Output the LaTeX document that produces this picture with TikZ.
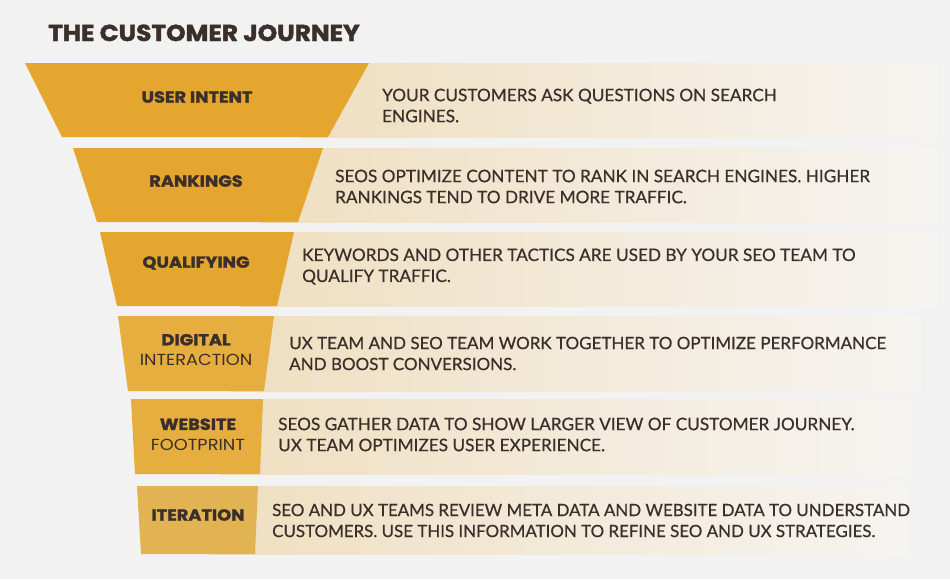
\documentclass[tikz,border=0pt]{standalone}
\usepackage{fontspec}
\setmainfont{Lato}[UprightFeatures={FakeBold=0.6}]
\newfontfamily\headfont{Poppins}[FakeStretch=1.11, BoldFeatures={FakeBold=1.6}]
\newfontfamily\titlefont{Poppins}[FakeStretch=1.08, BoldFeatures={FakeBold=1.8}]
\definecolor{bgc}{HTML}{F2F2F2}
\definecolor{gold}{HTML}{E4A62E}
\definecolor{goldB}{HTML}{E6AE3E}
\definecolor{goldC}{HTML}{E2B353}
\definecolor{beige}{HTML}{EFDFC0}
\definecolor{fadew}{HTML}{F6F4F1}
\definecolor{ink}{HTML}{3A2F2A}
\tikzset{
  band/.style={left color=beige, right color=fadew, draw=none},
  titletext/.style={font=\titlefont\bfseries\fontsize{23}{26}\selectfont, text=ink, inner sep=0pt},
  labeltext/.style={font=\headfont\fontsize{16}{20.5}\selectfont, text=ink, align=center, inner sep=0pt},
  bodytext/.style={font=\fontsize{17.2}{21}\selectfont, text=ink, align=left, inner sep=0pt, anchor=west}
}
\begin{document}
\begin{tikzpicture}[x=1pt,y=-1pt]
\fill[bgc] (0,0) rectangle (950,579);
\useasboundingbox (0,0) rectangle (950,579);
\node[titletext, anchor=base west] (title) at (48,41) {THE CUSTOMER JOURNEY};
% bands
\shade[band] (300,63) rectangle (938,137);
\shade[band] (260,148) rectangle (938,222);
\shade[band] (240,232) rectangle (938,306);
\shade[band] (230,316) rectangle (921,391);
\shade[band] (220,399) rectangle (910,474);
\shade[band] (210,486) rectangle (908,554);
% funnel pieces
\fill[gold] (25,63) -- (369,63) -- (328,137) -- (62,137) -- cycle;
\fill[gold] (73,148) -- (323,148) -- (298,222) -- (97,222) -- cycle;
\fill[gold] (100,232) -- (294,232) -- (277,306) -- (117,306) -- cycle;
\fill[goldB] (118,316) -- (274,316) -- (264,391) -- (128,391) -- cycle;
\fill[goldB] (131,399) -- (263,399) -- (260,474) -- (135,474) -- cycle;
\fill[goldC] (137,486) -- (258,486) -- (255,554) -- (141,554) -- cycle;
% labels
\node[labeltext] (l1) at (197,97) {\bfseries USER INTENT};
\node[labeltext] (l2) at (196,181) {\bfseries RANKINGS};
\node[labeltext] (l3) at (196,263) {\bfseries QUALIFYING};
\node[labeltext] (l4) at (196,350) {\bfseries DIGITAL\\INTERACTION};
\node[labeltext] (l5) at (198,434.5) {\bfseries WEBSITE\\FOOTPRINT};
\node[labeltext] (l6) at (198,515) {\bfseries ITERATION};
% body texts
\node[bodytext] (b1) at (382,105.5) {YOUR CUSTOMERS ASK QUESTIONS ON SEARCH\\ENGINES.};
\node[bodytext] (b2) at (335,186.5) {SEOS OPTIMIZE CONTENT TO RANK IN SEARCH ENGINES. HIGHER\\RANKINGS TEND TO DRIVE MORE TRAFFIC.};
\node[bodytext] (b3) at (302,266.5) {KEYWORDS AND OTHER TACTICS ARE USED BY YOUR SEO TEAM TO\\QUALIFY TRAFFIC.};
\node[bodytext, font=\fontsize{17.0}{21}\selectfont] (b4) at (289,353.5) {UX TEAM AND SEO TEAM WORK TOGETHER TO OPTIMIZE PERFORMANCE\\AND BOOST CONVERSIONS.};
\node[bodytext] (b5) at (278,434.5) {SEOS GATHER DATA TO SHOW LARGER VIEW OF CUSTOMER JOURNEY.\\UX TEAM OPTIMIZES USER EXPERIENCE.};
\node[bodytext, font=\fontsize{16.9}{21}\selectfont] (b6) at (272,520.5) {SEO AND UX TEAMS REVIEW META DATA AND WEBSITE DATA TO UNDERSTAND\\CUSTOMERS. USE THIS INFORMATION TO REFINE SEO AND UX STRATEGIES.};
\end{tikzpicture}
\end{document}
